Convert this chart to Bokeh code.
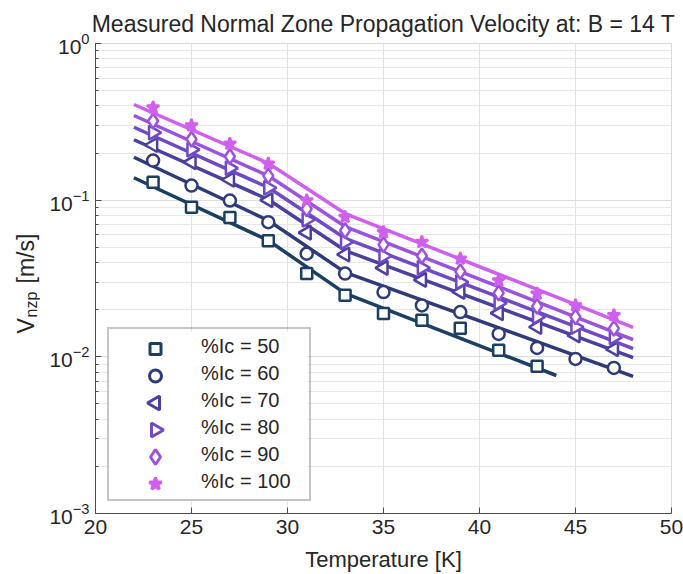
import math
from bokeh.plotting import figure
from bokeh.layouts import row
from bokeh.models import (Legend, LegendItem, LogTicker, Range1d, LinearScale,
                          SingleIntervalTicker)
from bokeh.core.properties import value
from bokeh.embed import file_html
from bokeh.resources import INLINE

# ---------------- data ----------------
temps = [23, 25, 27, 29, 31, 33, 35, 37, 39, 41, 43, 45, 47]
temps_50 = [23, 25, 27, 29, 31, 33, 35, 37, 39, 41, 43]

v50 = [0.130, 0.090, 0.0776, 0.055, 0.034, 0.0247, 0.0189, 0.0171, 0.0152, 0.0110, 0.0087]
v60 = [0.179, 0.124, 0.0995, 0.0724, 0.0455, 0.034, 0.0259, 0.0213, 0.0193, 0.0140, 0.0114, 0.0097, 0.0085]
v70 = [0.225, 0.175, 0.135, 0.100, 0.062, 0.045, 0.037, 0.031, 0.026, 0.019, 0.0155, 0.0137, 0.0112]
v80 = [0.270, 0.210, 0.160, 0.120, 0.075, 0.054, 0.044, 0.037, 0.030, 0.022, 0.018, 0.0155, 0.0133]
v90 = [0.320, 0.245, 0.190, 0.143, 0.088, 0.064, 0.052, 0.044, 0.035, 0.0255, 0.021, 0.018, 0.0152]
v100 = [0.390, 0.300, 0.229, 0.171, 0.0995, 0.078, 0.0625, 0.054, 0.0423, 0.0307, 0.0253, 0.0213, 0.0184]

# fitted curves
fit_T = [22, 29, 33, 48]
fit_T_50 = [22, 29, 33, 44]
fit50 = [0.139, 0.0553, 0.0254, 0.0076]
fit60 = [0.188, 0.0742, 0.0346, 0.0075]
fit70 = [0.243, 0.101, 0.0477, 0.0099]
fit80 = [0.292, 0.1205, 0.0571, 0.0113]
fit90 = [0.347, 0.143, 0.0679, 0.0129]
fit100 = [0.408, 0.172, 0.0822, 0.0154]

labels = ["%Ic = 50", "%Ic = 60", "%Ic = 70", "%Ic = 80", "%Ic = 90", "%Ic = 100"]
colors = ["#1b3f63", "#2e3b78", "#4b3fa0", "#7049c6", "#9c52de", "#d05ff0"]

FONT = "Liberation Sans"
TXT = "#262626"
FW, FH = 576, 470          # plot frame size
LW = 40                    # width of the y-label strip
BT, BB = 43, 61            # top / bottom borders

p = figure(frame_width=FW, frame_height=FH, output_backend="svg", toolbar_location=None,
           y_axis_type="log", x_range=Range1d(20, 50), y_range=Range1d(1e-3, 1),
           min_border_left=95 - LW, min_border_right=12, min_border_top=BT,
           min_border_bottom=BB)
# pixel-like helper ranges for the legend symbols
p.extra_x_ranges = {"px": Range1d(0, FW)}
p.extra_y_ranges = {"py": Range1d(0, FH)}
p.extra_x_scales = {"px": LinearScale()}
p.extra_y_scales = {"py": LinearScale()}

p.title.text = "Measured Normal Zone Propagation Velocity at: B = 14 T"
p.title.align = "center"
p.title.text_font = FONT
p.title.text_font_size = "23px"
p.title.text_font_style = "normal"
p.title.text_color = TXT
p.title.standoff = 13

p.outline_line_color = "#d9d9d9"
p.background_fill_color = "white"
p.border_fill_color = "white"

p.xaxis.ticker = SingleIntervalTicker(interval=5, num_minor_ticks=0)
p.yaxis.ticker = LogTicker(num_minor_ticks=10)

for ax in (p.xaxis[0], p.yaxis[0]):
    ax.axis_line_color = "#4d4d4d"
    ax.major_tick_line_color = "#4d4d4d"
    ax.minor_tick_line_color = "#4d4d4d"
    ax.major_tick_in = 6
    ax.major_tick_out = 0
    ax.minor_tick_in = 3
    ax.minor_tick_out = 0
    ax.major_label_text_font = FONT
    ax.major_label_text_font_size = "21px"
    ax.major_label_text_color = TXT
    ax.axis_label_text_font = FONT
    ax.axis_label_text_font_size = "22px"
    ax.axis_label_text_color = TXT
    ax.axis_label_text_font_style = "normal"

p.xaxis.axis_label = "Temperature [K]"
p.xaxis.major_label_standoff = 6
p.xaxis.axis_label_standoff = 10
p.yaxis.major_label_standoff = 6

p.xgrid.grid_line_color = "#e3e3e3"
p.ygrid.grid_line_color = "#dcdcdc"
p.ygrid.minor_grid_line_color = "#e8e8e8"

series = [
    (temps_50, v50, fit_T_50, fit50, "square", 0, 11),
    (temps, v60, fit_T, fit60, "circle", 0, 12),
    (temps, v70, fit_T, fit70, "triangle", math.pi / 2, 14),
    (temps, v80, fit_T, fit80, "triangle", -math.pi / 2, 14),
    (temps, v90, fit_T, fit90, "diamond", 0, 15),
    (temps, v100, fit_T, fit100, "star", 0, 13),
]

# legend geometry (pixels, relative to the frame)
LG_X, LG_Y, LG_PAD, LG_ROW, LG_GW, LG_LABW = 12, 12, 4, 27, 88, 104
n = len(series)
lg_h = 2 * LG_PAD + n * LG_ROW
lg_w = 2 * LG_PAD + LG_GW + LG_LABW
lg_cx = LG_X + LG_PAD + LG_GW / 2

# white background behind the legend (hides the grid there)
p.quad(left=[LG_X], right=[LG_X + lg_w], bottom=[LG_Y], top=[LG_Y + lg_h],
       x_range_name="px", y_range_name="py", fill_color="white", line_color=None)

items = []
for i, (tx, vy, ft, fv, mk, ang, sz) in enumerate(series):
    c = colors[i]
    p.line(ft, fv, line_color=c, line_width=3.5)
    fill = c if mk == "star" else "white"
    p.scatter(tx, vy, marker=mk, angle=ang, size=sz, line_color=c,
              line_width=2.5, fill_color=fill)
    # legend symbol, drawn with the same marker and angle
    cy = LG_Y + lg_h - LG_PAD - LG_ROW * (i + 0.5)
    p.scatter([lg_cx], [cy], marker=mk, angle=ang, size=sz, line_color=c,
              line_width=3, fill_color=fill, x_range_name="px", y_range_name="py",
              level="overlay")
    dummy = p.scatter([], [], marker="square", line_alpha=0, fill_alpha=0)
    items.append(LegendItem(label=labels[i], renderers=[dummy]))

legend = Legend(items=items, location=(LG_X, LG_Y), padding=LG_PAD, spacing=0,
                glyph_width=LG_GW, glyph_height=LG_ROW, label_height=LG_ROW,
                label_width=LG_LABW, label_standoff=0,
                label_text_font=FONT, label_text_font_size="20px",
                label_text_color=TXT, border_line_color="#8c8c8c",
                border_line_width=2, background_fill_alpha=0.0)
p.add_layout(legend, "center")

# ---------------- y-axis label strip (V with subscript nzp) ----------------
yl = figure(frame_width=LW, frame_height=FH, output_backend="svg", toolbar_location=None,
            x_range=Range1d(0, LW), y_range=Range1d(0, FH),
            min_border_left=0, min_border_right=0, min_border_top=BT,
            min_border_bottom=BB, x_axis_location=None, y_axis_location=None)
yl.grid.visible = False
yl.outline_line_color = None
yl.background_fill_color = "white"
yl.border_fill_color = "white"

ylab_parts = ["V", "nzp", "[m/s]"]
ylab_sizes = ["23px", "16px", "23px"]
ylab_x = [25, 31, 25]          # baseline position in the strip (px)
ylab_y = [180, 196, 230]       # start of each part, from the frame bottom (px)
for t, fs, bx, by in zip(ylab_parts, ylab_sizes, ylab_x, ylab_y):
    yl.text(x=[bx], y=[by], text=[t], angle=math.pi / 2, text_font=value(FONT),
            text_font_size=fs, text_color=TXT, text_align="left",
            text_baseline="alphabetic")

layout = row(yl, p)
open("out.html", "w").write(file_html(layout, INLINE))
